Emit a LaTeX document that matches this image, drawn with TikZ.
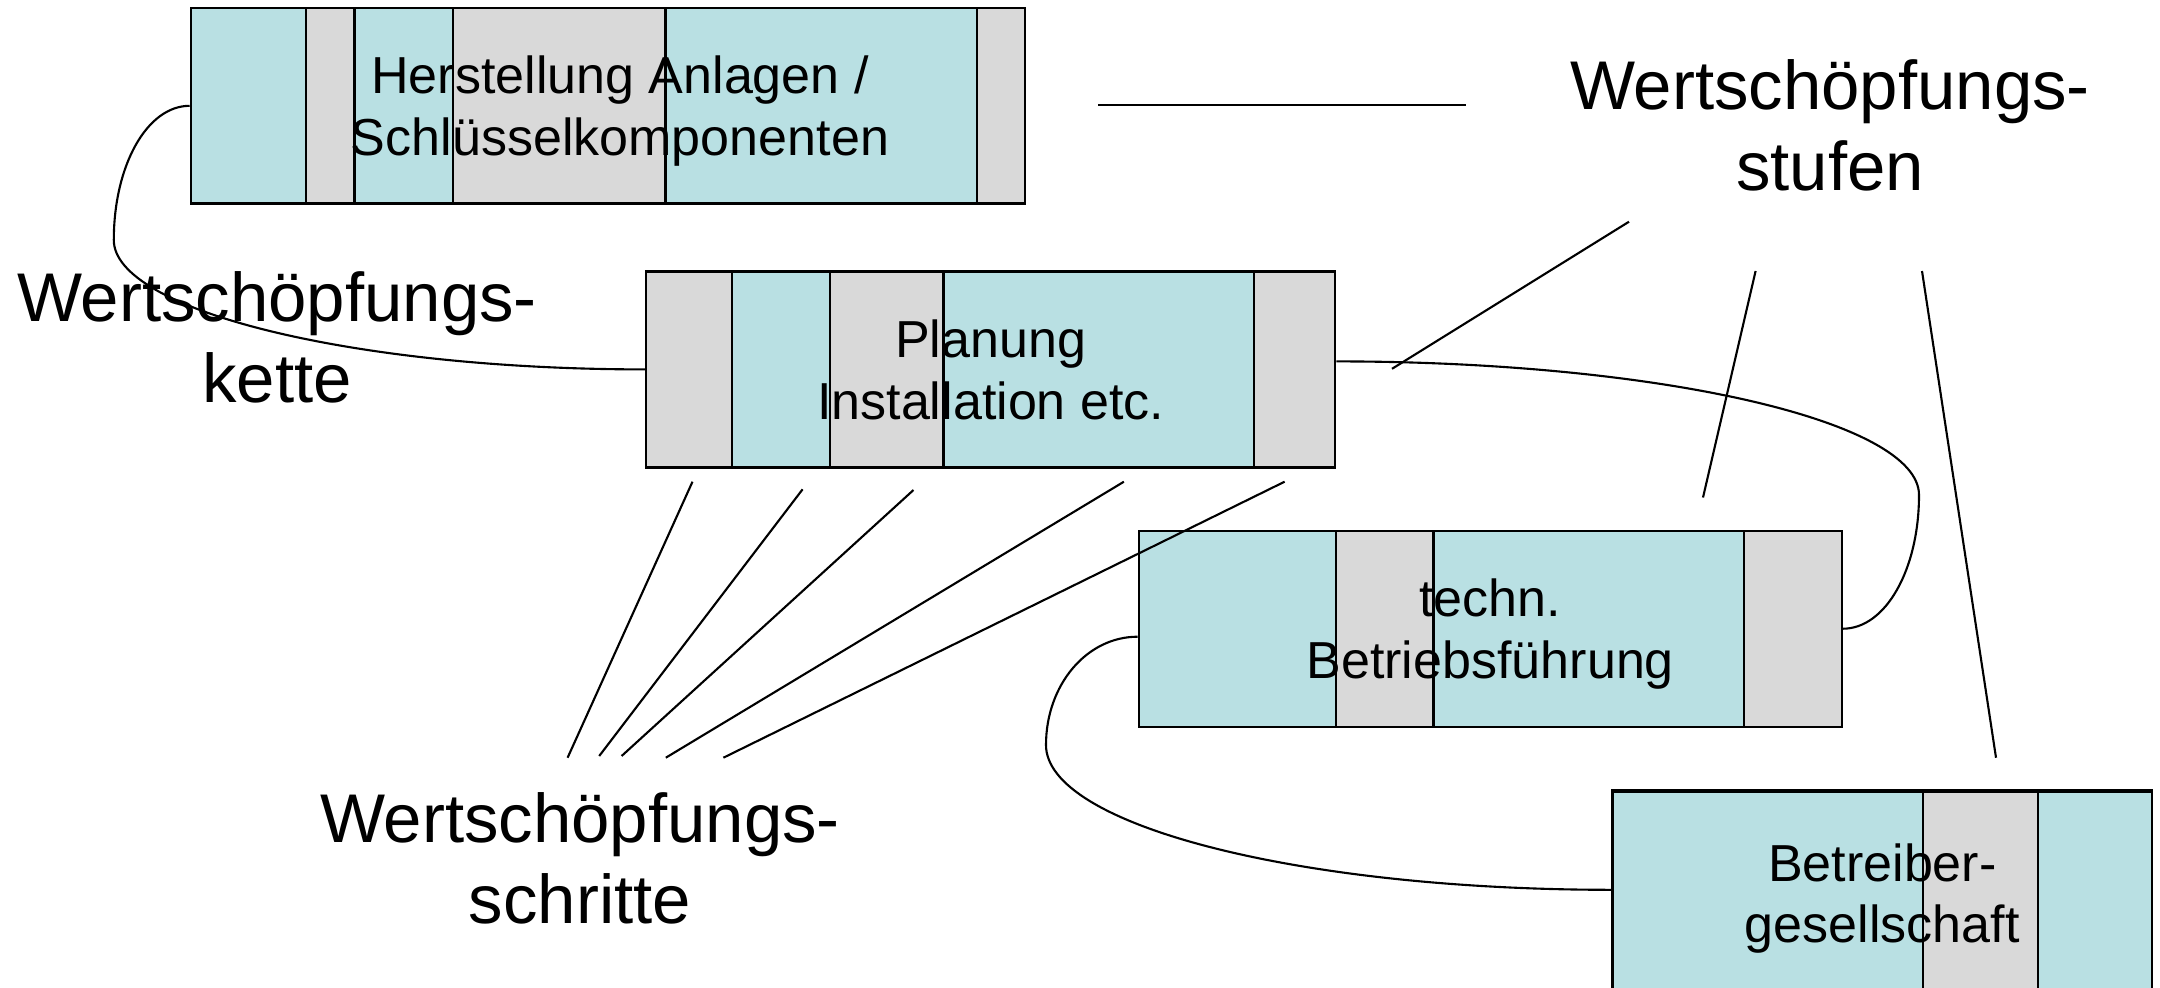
\documentclass[tikz,border=0pt]{standalone}
\usepackage{fontspec}
\setmainfont{Liberation Sans}

\definecolor{stufeblau}{RGB}{185,224,227}
\definecolor{stufegrau}{RGB}{217,217,217}

\tikzset{
  stufe/.style={draw, line width=0.6pt, inner sep=0pt, align=center, text depth=0pt,
    minimum height=1.96cm, font=\fontsize{14.8}{17.5}\selectfont},
  streifen/.style={draw, line width=0.6pt},
  gross/.style={inner sep=0pt, align=center, font=\fontsize{19.6}{23}\selectfont},
  linie/.style={line width=0.6pt},
}

\begin{document}
\begin{tikzpicture}[x=0.01cm, y=-0.01cm]
\useasboundingbox (0,0) rectangle (2160,987);

% stripes of the four boxes
\foreach \xa/\xb/\farbe in {191/306/stufeblau, 306/354.5/stufegrau, 354.5/453/stufeblau,
    453/665.5/stufegrau, 665.5/977/stufeblau, 977/1025/stufegrau}
  \filldraw[streifen, fill=\farbe] (\xa,8.3) rectangle (\xb,203.3);
\foreach \xa/\xb/\farbe in {646.4/731.6/stufegrau, 731.6/829.7/stufeblau, 829.7/943.5/stufegrau,
    943.5/1254/stufeblau, 1254/1335/stufegrau}
  \filldraw[streifen, fill=\farbe] (\xa,271.7) rectangle (\xb,467);
\foreach \xa/\xb/\farbe in {1138.8/1335.6/stufeblau, 1335.6/1433.5/stufegrau,
    1433.5/1743.7/stufeblau, 1743.7/1841.6/stufegrau}
  \filldraw[streifen, fill=\farbe] (\xa,530.7) rectangle (\xb,726.7);
\foreach \xa/\xb/\farbe in {1612.6/1923/stufeblau, 1923/2037.6/stufegrau, 2037.6/2152/stufeblau}
  \filldraw[streifen, fill=\farbe] (\xa,791.5) rectangle (\xb,995);

% boxes
\node[stufe, minimum width=8.34cm] (herst) at (608,105.8)
  {\hspace*{0.24cm}Herstellung Anlagen /\\\hspace*{0.24cm}Schlüsselkomponenten};
\node[stufe, minimum width=6.886cm] (plan) at (990.7,369.4) {Planung\\Installation etc.};
\node[stufe, minimum width=7.028cm] (betr) at (1490.2,628.7) {techn.\\Betriebsführung};
\node[stufe, minimum width=5.394cm, minimum height=2.07cm] (gesell) at (1882.3,893.3) {Betreiber-\\gesellschaft};

% labels
\node[gross] (kette) at (277,337.7) {Wertschöpfungs-\\kette};
\node[gross] (schritte) at (580,858.3) {Wertschöpfungs-\\schritte};
\node[gross] (stufen) at (1830,125.7) {Wertschöpfungs-\\stufen};

% chain between the boxes
\coordinate (bogenA) at (113.8,240);
\coordinate (bogenB) at (1919,495);
\coordinate (bogenC) at (1046,745);
\draw[linie] (herst.west) .. controls +(-43,0) and +(0,-74) .. (bogenA)
  .. controls +(0,70) and +(-293,0) .. (plan.west);
\draw[linie] ([yshift=0.08cm]plan.east) .. controls +(322,0) and +(0,-74) .. (bogenB)
  .. controls +(0,74) and +(43,0) .. (betr.east);
\draw[linie] ([yshift=-0.08cm]betr.west) .. controls +(-51,0) and +(0,-60) .. (bogenC)
  .. controls +(0,80) and +(-313,0) .. ([yshift=0.035cm]gesell.west);

% pointer lines
\coordinate (strichA) at (1098,105);
\coordinate (strichB) at (1466,105);
\draw[linie] (strichA) -- (strichB);

\foreach \n/\xa/\ya/\xb/\yb in {1/1629/221.7/1392/368.8, 2/1755.6/271/1703/497.5, 3/1922/271/1996/757.7}{
  \coordinate (stufeA\n) at (\xa,\ya);
  \coordinate (stufeB\n) at (\xb,\yb);
  \draw[linie] (stufeA\n) -- (stufeB\n);
}
\foreach \n/\xa/\ya/\xb/\yb in {1/567.6/757.7/692.5/481.7, 2/599.2/756/802.6/489.3,
    3/621.6/756/913.5/490, 4/665.8/757.7/1123.9/481.7, 5/723.4/757.7/1284.6/481.7}{
  \coordinate (schrittA\n) at (\xa,\ya);
  \coordinate (schrittB\n) at (\xb,\yb);
  \draw[linie] (schrittA\n) -- (schrittB\n);
}
\end{tikzpicture}
\end{document}
